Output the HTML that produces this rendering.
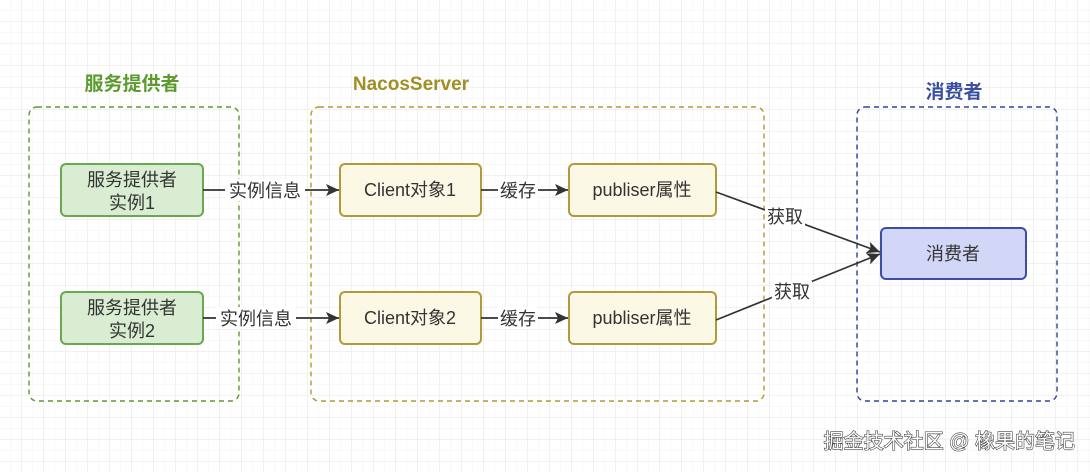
<!DOCTYPE html>
<html><head><meta charset="utf-8"><style>
html,body{margin:0;padding:0;background:#fff;}
svg{display:block;font-family:"Liberation Sans","Noto Sans CJK SC",sans-serif;}
</style></head><body>
<svg width="1090" height="472" viewBox="0 0 1090 472" xmlns="http://www.w3.org/2000/svg">
<defs>
<pattern id="g0" width="11" height="11" patternUnits="userSpaceOnUse">
<path d="M11 0V11M0 11H11" fill="none" stroke="#f3f3f3" stroke-width="1"/>
</pattern>
<pattern id="g1" width="22" height="22" patternUnits="userSpaceOnUse" x="0" y="0">
<path d="M22 0V22M0 22H22" fill="none" stroke="#e3e3e3" stroke-width="1"/>
</pattern>
<marker id="ar" markerWidth="14" markerHeight="14" refX="13" refY="6" orient="auto" markerUnits="userSpaceOnUse">
<path d="M0,0 L13,6 L0,12 L3,6 Z" fill="#333"/>
</marker>
</defs>
<rect width="1090" height="472" fill="#fff"/>
<rect width="1090" height="472" fill="url(#g0)"/>
<rect width="1090" height="472" fill="url(#g1)"/>

<text x="132" y="90" text-anchor="middle" font-size="19" font-weight="bold" fill="#5c9a2e">服务提供者</text>
<text x="411" y="90" text-anchor="middle" font-size="19" font-weight="bold" fill="#a08f24">NacosServer</text>
<text x="954" y="98" text-anchor="middle" font-size="19" font-weight="bold" fill="#3a4fa0">消费者</text>

<rect x="29" y="107" width="210" height="294" rx="8" fill="none" stroke="#5f9a2e" stroke-width="1.4" stroke-dasharray="5,4"/>
<rect x="311" y="107" width="453" height="294" rx="8" fill="none" stroke="#b09a30" stroke-width="1.4" stroke-dasharray="5,4"/>
<rect x="857" y="107" width="200" height="294" rx="8" fill="none" stroke="#2f4399" stroke-width="1.4" stroke-dasharray="5,4"/>

<g font-size="18" fill="#333" text-anchor="middle">
<rect x="61" y="164" width="142" height="52" rx="5" fill="#d9edd2" stroke="#6aa84f" stroke-width="2"/>
<text x="132" y="186">服务提供者</text><text x="132" y="209">实例1</text>
<rect x="61" y="292" width="142" height="52" rx="5" fill="#d9edd2" stroke="#6aa84f" stroke-width="2"/>
<text x="132" y="314">服务提供者</text><text x="132" y="337">实例2</text>

<rect x="340" y="164" width="141" height="52" rx="5" fill="#fcf8e6" stroke="#b09a3a" stroke-width="2"/>
<text x="410" y="196">Client对象1</text>
<rect x="340" y="292" width="141" height="52" rx="5" fill="#fcf8e6" stroke="#b09a3a" stroke-width="2"/>
<text x="410" y="324">Client对象2</text>

<rect x="569" y="164" width="147" height="52" rx="5" fill="#fcf8e6" stroke="#b09a3a" stroke-width="2"/>
<text x="642" y="196">publiser属性</text>
<rect x="569" y="292" width="147" height="52" rx="5" fill="#fcf8e6" stroke="#b09a3a" stroke-width="2"/>
<text x="642" y="324">publiser属性</text>

<rect x="881" y="228" width="145" height="51" rx="5" fill="#d2d6f7" stroke="#3c4fa0" stroke-width="2"/>
<text x="953" y="260">消费者</text>
</g>

<g stroke="#333" stroke-width="1.7" fill="none">
<line x1="203" y1="190" x2="339" y2="190" marker-end="url(#ar)"/>
<line x1="203" y1="318" x2="339" y2="318" marker-end="url(#ar)"/>
<line x1="481" y1="190" x2="568" y2="190" marker-end="url(#ar)"/>
<line x1="481" y1="318" x2="568" y2="318" marker-end="url(#ar)"/>
<line x1="716" y1="192" x2="880" y2="252" marker-end="url(#ar)"/>
<line x1="716" y1="320" x2="880" y2="254" marker-end="url(#ar)"/>
</g>
<g font-size="18" fill="#333" text-anchor="middle">
<rect x="225" y="179" width="80" height="22" fill="#fff"/><text x="265" y="197">实例信息</text>
<rect x="216" y="307" width="80" height="22" fill="#fff"/><text x="256" y="325">实例信息</text>
<rect x="498" y="179" width="40" height="22" fill="#fff"/><text x="518" y="197">缓存</text>
<rect x="498" y="307" width="40" height="22" fill="#fff"/><text x="518" y="325">缓存</text>
<rect x="765" y="206" width="40" height="22" fill="#fff"/><text x="785" y="223">获取</text>
<rect x="772" y="281" width="40" height="22" fill="#fff"/><text x="792" y="298">获取</text>
</g>

<text x="1075" y="448" text-anchor="end" font-size="20" fill="#fff" stroke="#444" stroke-width="1.2" paint-order="stroke">掘金技术社区 @ 橡果的笔记</text>
</svg>
</body></html>
